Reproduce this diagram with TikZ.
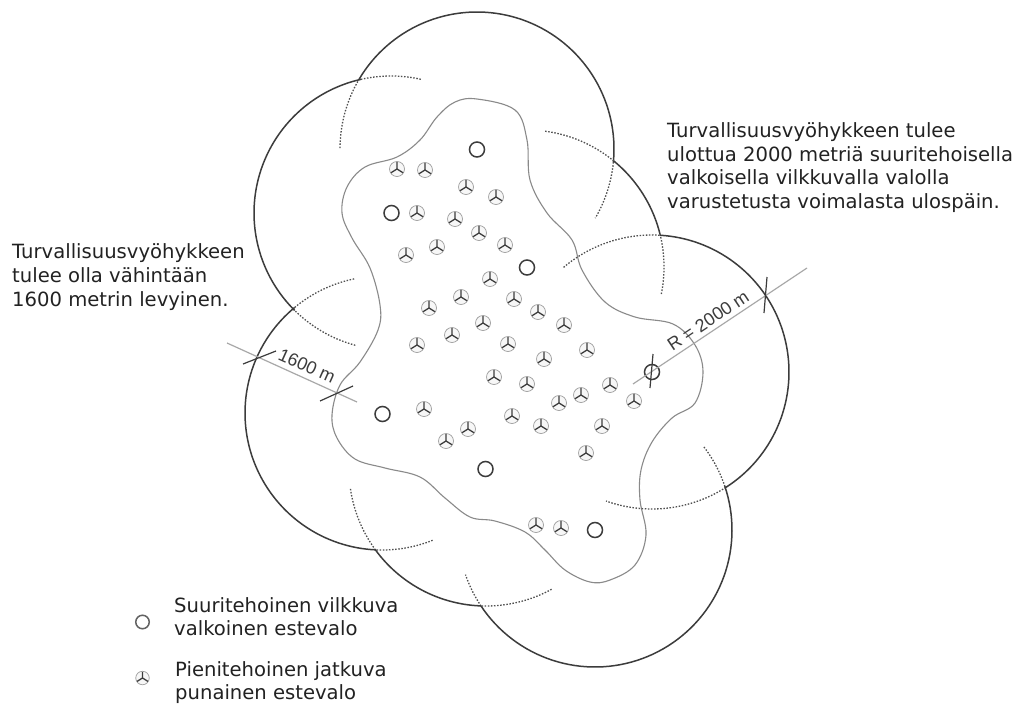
\documentclass[tikz,border=0pt]{standalone}
\usepackage{fontspec}
\setmainfont{DejaVu Sans}
\newfontfamily\dimfont{Liberation Sans}
\definecolor{inkc}{HTML}{3C3C3C}
\definecolor{contourc}{HTML}{8A8A8A}
\definecolor{dimc}{HTML}{A8A8A8}
\definecolor{textc}{HTML}{222222}
\tikzset{
  solidarc/.style={draw=inkc,line width=1.5pt},
  dotarc/.style={draw=inkc!90,line width=1.3pt,dash pattern=on 1.5pt off 1.6pt},
  contour/.style={draw=contourc,line width=1.1pt},
  dimline/.style={draw=dimc,line width=1.2pt},
  tick/.style={draw=inkc,line width=1.2pt},
  beacon/.style={circle,draw=inkc,line width=1.5pt,minimum size=15pt,inner sep=0pt},
  caption/.style={anchor=west,align=left,inner sep=0pt,text=textc,font=\fontsize{19.6}{23.8}\selectfont},
  legendtext/.style={anchor=west,align=left,inner sep=0pt,text=textc,font=\fontsize{19.6}{23}\selectfont},
  dimlabel/.style={inner sep=0pt,text=inkc,font=\dimfont\fontsize{18}{20}\selectfont},
  pics/turbine/.style={code={
    \draw[draw=black!38,line width=.7pt,fill=black!3] (0,0) circle (7.5pt);
    \draw[draw=inkc,line width=1.3pt] (0,0) -- (90:6.8pt) (0,0) -- (212:7.2pt) (0,0) -- (328:7.2pt);
  }}
}
\newcommand{\zonearc}[6]{%
  \draw[dotarc] plot[domain=#3:#4,samples=30] ({#1+137*cos(\x)},{#2+137*sin(\x)});
  \draw[solidarc] plot[domain=#4:#5,samples=70] ({#1+137*cos(\x)},{#2+137*sin(\x)});
  \draw[dotarc] plot[domain=#5:#6,samples=30] ({#1+137*cos(\x)},{#2+137*sin(\x)});
}
\begin{document}
\begin{tikzpicture}[x=1pt,y=-1pt]
\useasboundingbox[fill=white] (0,0) rectangle (1019,704);

% safety zone: inner contour
\draw[contour] plot[smooth cycle,tension=.6] coordinates {
 (477,99) (515,110) (527,140) (530,180) (547,213) (572,240) (582,270) (605,302)
 (635,317) (673,324) (695,345) (703,372) (695,403) (672,418) (652,442) (641,470)
 (640,500) (646,535) (635,565) (610,580) (590,582) (565,570) (545,550) (525,532)
 (495,521) (470,517) (445,498) (420,477) (385,468) (355,459) (337,438) (332,415)
 (340,385) (360,362) (378,330) (380,305) (370,268) (352,238) (342,213) (347,187)
 (365,167) (397,157) (420,140) (437,117) (455,102)};

% safety zone: outer arcs
\zonearc{477}{149}{-179.6}{-149.3}{5.5}{30.3}
\zonearc{527}{267}{-82.4}{-50.7}{-13.9}{11.8}
\zonearc{652}{372}{-130.2}{-86.7}{57.4}{109.6}
\zonearc{595}{530}{-37.3}{-18.7}{146.3}{161}
\zonearc{486}{469}{61.4}{92.1}{143.8}{172.3}
\zonearc{382}{413}{68.3}{92.5}{230.4}{258.5}
\zonearc{391}{213}{105.1}{134.7}{257.3}{282.6}

% high-power lights
\node[beacon] (b1) at (477,149.5) {};
\node[beacon] (b2) at (391.5,213) {};
\node[beacon] (b3) at (527,267.5) {};
\node[beacon] (b4) at (382.5,414) {};
\node[beacon] (b5) at (485.5,469) {};
\node[beacon] (b6) at (595,530) {};
\node[beacon] (b7) at (652,372) {};

% low-power lights
\foreach \px/\py in {397/169,425/170,466/187,496/197,417/213,455/219,479/233,505/245,437/247,406/255,
  490/279,461/297,514/299,429/308,538/312,483/323,564/325,417/345,452/335,508/344,544/359,587/350,
  494/377,527/384,559/403,581/395,610/385,634/401,424/409,512/416,541/426,602/426,468/429,446/441,
  586/453,536/525,561/528}
  \pic at (\px,\py) {turbine};

% dimension R
\coordinate (ra) at (633,384);
\coordinate (rb) at (807,268);
\coordinate (rt1) at (653,354);
\coordinate (rt2) at (650,388);
\coordinate (rt3) at (767,277);
\coordinate (rt4) at (764,313);
\draw[dimline] (ra) -- (rb);
\draw[tick] (rt1) -- (rt2);
\draw[tick] (rt3) -- (rt4);
\node[dimlabel,rotate=33.7] (rlabel) at (708,320.5) {R = 2000 m};

% dimension 1600 m
\coordinate (wa) at (227,343);
\coordinate (wb) at (357,402);
\coordinate (wt1) at (243,364);
\coordinate (wt2) at (276,351);
\coordinate (wt3) at (320,401);
\coordinate (wt4) at (353,386);
\draw[dimline] (wa) -- (wb);
\draw[tick] (wt1) -- (wt2);
\draw[tick] (wt3) -- (wt4);
\node[dimlabel,rotate=-24.2] (wlabel) at (307,366) {1600 m};

% captions
\node[caption] (capr) at (667,167.5) {Turvallisuusvyöhykkeen tulee\\ulottua 2000 metriä suuritehoisella\\valkoisella vilkkuvalla valolla\\varustetusta voimalasta ulospäin.};
\node[caption] (capl) at (12,277) {Turvallisuusvyöhykkeen\\tulee olla vähintään\\1600 metrin levyinen.};

% legend
\node[beacon,minimum size=13.5pt,draw=inkc!80] (lb) at (142.5,622) {};
\pic[scale=.9] (lt) at (142.5,678) {turbine};
\node[legendtext] (l1) at (174,616.5) {Suuritehoinen vilkkuva\\valkoinen estevalo};
\node[legendtext] (l2) at (175,682.5) {Pienitehoinen jatkuva\\punainen estevalo};
\end{tikzpicture}
\end{document}
